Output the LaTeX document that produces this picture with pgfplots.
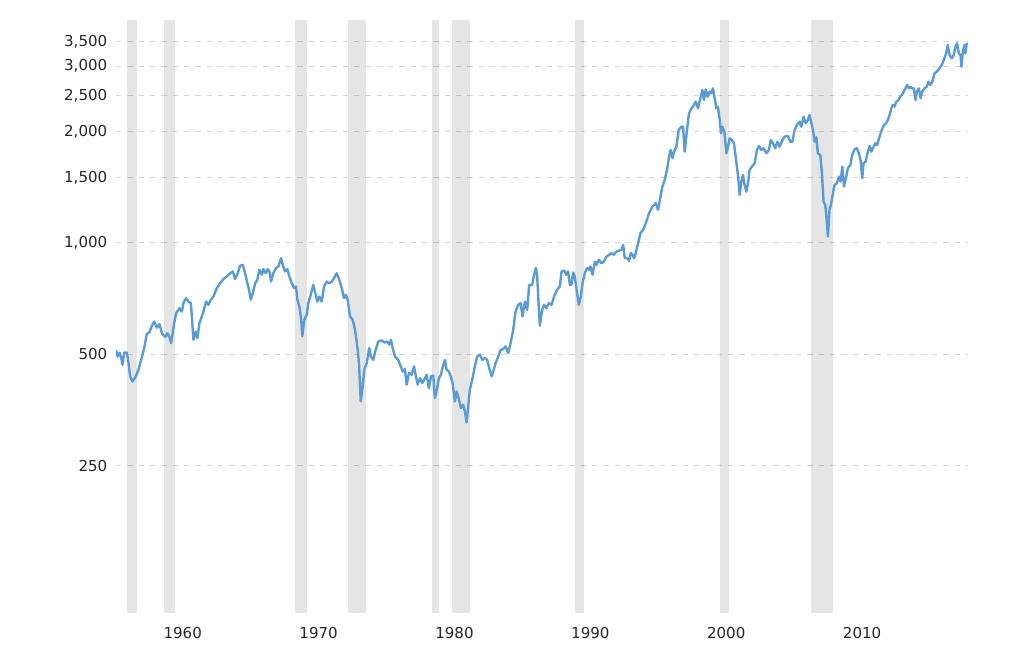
\documentclass[border=0pt]{standalone}
\usepackage{pgfplots}
\pgfplotsset{compat=1.18}
\usepackage{fontspec}
\setmainfont{DejaVu Sans}

\definecolor{linecol}{RGB}{91,155,213}
\definecolor{gridcol}{RGB}{215,215,215}

\pgfplotstableread{
year value
1956.76 514
1956.86 493
1957.01 505
1957.13 489
1957.23 468
1957.35 505
1957.55 505
1957.67 474
1957.79 436
1957.96 422
1958.16 432
1958.40 454
1958.65 489
1958.85 525
1959.02 568
1959.21 573
1959.39 597
1959.56 613
1959.76 590
1959.95 603
1960.13 570
1960.37 557
1960.54 570
1960.66 559
1960.81 536
1961.03 607
1961.18 646
1961.42 666
1961.60 652
1961.71 687
1961.91 709
1962.08 694
1962.26 687
1962.45 547
1962.63 576
1962.74 553
1962.89 607
1963.07 633
1963.18 652
1963.38 694
1963.55 680
1963.73 702
1963.92 716
1964.17 755
1964.41 778
1964.65 798
1964.90 811
1965.15 828
1965.35 837
1965.51 798
1965.71 828
1965.88 867
1966.08 872
1966.25 828
1966.42 778
1966.54 747
1966.67 702
1966.82 732
1966.99 778
1967.15 795
1967.30 846
1967.48 820
1967.60 849
1967.77 828
1967.92 849
1968.04 837
1968.16 786
1968.33 828
1968.53 855
1968.70 863
1968.90 909
1969.02 872
1969.19 837
1969.36 849
1969.51 811
1969.68 778
1969.85 755
1970.00 762
1970.10 702
1970.24 673
1970.37 626
1970.46 559
1970.61 620
1970.79 639
1970.90 687
1971.08 724
1971.27 770
1971.45 724
1971.57 694
1971.71 716
1971.89 694
1972.06 762
1972.26 786
1972.45 778
1972.63 786
1972.79 803
1972.99 828
1973.18 795
1973.36 755
1973.53 709
1973.68 724
1973.80 702
1973.97 633
1974.17 620
1974.34 582
1974.51 525
1974.63 473
1974.76 373
1974.90 409
1975.02 454
1975.20 473
1975.39 520
1975.51 493
1975.68 483
1975.86 514
1976.05 541
1976.30 545
1976.54 538
1976.71 541
1976.86 531
1976.99 547
1977.11 520
1977.28 493
1977.52 483
1977.70 464
1977.85 449
1978.01 456
1978.14 414
1978.31 445
1978.51 440
1978.68 464
1978.82 436
1978.95 414
1979.12 431
1979.29 418
1979.43 427
1979.61 440
1979.78 405
1979.93 436
1980.10 438
1980.22 381
1980.39 405
1980.51 431
1980.66 440
1980.83 468
1980.96 483
1981.08 454
1981.25 449
1981.38 436
1981.52 418
1981.69 373
1981.82 397
1981.99 377
1982.13 358
1982.30 365
1982.43 350
1982.55 327
1982.67 362
1982.79 401
1982.99 431
1983.16 464
1983.33 493
1983.53 499
1983.70 483
1983.90 488
1984.07 483
1984.21 459
1984.39 436
1984.51 449
1984.68 473
1984.88 493
1985.05 514
1985.24 516
1985.42 525
1985.61 504
1985.79 536
1985.98 582
1986.15 652
1986.35 680
1986.52 687
1986.67 633
1986.84 694
1987.01 659
1987.16 770
1987.21 770
1987.38 770
1987.52 820
1987.65 855
1987.74 820
1987.82 716
1987.94 597
1988.11 659
1988.26 680
1988.43 666
1988.60 687
1988.80 680
1988.99 716
1989.21 747
1989.41 762
1989.54 837
1989.73 842
1989.90 820
1990.02 837
1990.15 770
1990.27 770
1990.39 832
1990.51 811
1990.68 732
1990.81 680
1990.96 716
1991.08 778
1991.25 828
1991.42 855
1991.57 846
1991.67 863
1991.82 820
1991.99 890
1992.11 872
1992.28 900
1992.48 881
1992.65 890
1992.85 918
1993.04 928
1993.21 938
1993.38 928
1993.58 947
1993.77 953
1993.95 957
1994.07 988
1994.19 909
1994.36 909
1994.51 894
1994.63 938
1994.76 928
1994.88 909
1995.00 938
1995.17 998
1995.35 1062
1995.54 1084
1995.74 1130
1995.98 1203
1996.23 1253
1996.47 1280
1996.64 1228
1996.82 1333
1996.96 1419
1997.13 1479
1997.30 1574
1997.45 1709
1997.57 1782
1997.70 1692
1997.82 1763
1997.99 1819
1998.16 2018
1998.36 2060
1998.48 2060
1998.60 1763
1998.77 2018
1998.92 2239
1999.10 2310
1999.21 2333
1999.41 2406
1999.58 2310
1999.76 2458
1999.90 2588
2000.02 2432
2000.15 2599
2000.29 2482
2000.44 2561
2000.57 2535
2000.68 2615
2000.81 2458
2000.93 2310
2001.05 2333
2001.18 2148
2001.27 1977
2001.38 2060
2001.52 1997
2001.67 1746
2001.79 1819
2001.91 1916
2002.08 1896
2002.23 1858
2002.35 1709
2002.52 1526
2002.65 1347
2002.77 1464
2002.89 1526
2003.01 1434
2003.14 1375
2003.26 1449
2003.38 1574
2003.55 1607
2003.75 1641
2003.92 1782
2004.07 1827
2004.24 1782
2004.41 1801
2004.61 1746
2004.80 1782
2004.93 1896
2005.10 1858
2005.27 1801
2005.42 1876
2005.59 1819
2005.79 1896
2005.96 1936
2006.20 1945
2006.38 1876
2006.52 1876
2006.69 2018
2006.86 2082
2007.06 2125
2007.18 2060
2007.35 2192
2007.50 2104
2007.67 2148
2007.79 2215
2007.92 2104
2008.04 2018
2008.16 1876
2008.29 1929
2008.40 1746
2008.58 1727
2008.70 1542
2008.82 1292
2008.95 1266
2009.07 1130
2009.14 1040
2009.26 1228
2009.39 1280
2009.51 1361
2009.63 1434
2009.80 1449
2009.95 1510
2010.07 1464
2010.20 1607
2010.32 1419
2010.44 1479
2010.61 1591
2010.79 1624
2010.93 1727
2011.10 1790
2011.27 1801
2011.42 1746
2011.54 1675
2011.67 1495
2011.76 1641
2011.91 1657
2012.08 1763
2012.21 1827
2012.33 1763
2012.45 1801
2012.63 1858
2012.77 1838
2012.94 1936
2013.11 2018
2013.26 2082
2013.43 2104
2013.55 2148
2013.68 2215
2013.80 2310
2013.92 2358
2014.04 2333
2014.17 2406
2014.34 2432
2014.46 2482
2014.58 2509
2014.71 2561
2014.85 2615
2014.98 2670
2015.10 2615
2015.22 2641
2015.35 2615
2015.46 2615
2015.59 2432
2015.68 2561
2015.83 2615
2015.96 2458
2016.08 2561
2016.25 2615
2016.42 2641
2016.54 2725
2016.67 2670
2016.82 2725
2016.99 2871
2017.15 2899
2017.35 2962
2017.52 3023
2017.67 3119
2017.84 3251
2017.96 3423
2018.09 3217
2018.26 3152
2018.40 3217
2018.53 3387
2018.65 3459
2018.77 3251
2018.90 3217
2018.97 2991
2019.07 3283
2019.19 3423
2019.26 3251
2019.36 3473
}\seriesdata

\begin{document}
\begin{tikzpicture}
\path[use as bounding box] (0,0) rectangle (768pt,484.5pt);
\begin{axis}[
    at={(87pt,24.75pt)}, anchor=south west,
    width=639pt, height=444.75pt, scale only axis,
    xmin=1956.75, xmax=2019.45,
    ymode=log, ymin=100, ymax=4000,
    axis line style={draw=none},
    tick style={draw=none},
    major tick length=0pt,
    xtick={1960,1970,1980,1990,2000,2010},
    xticklabels={1960,1970,1980,1990,2000,2010},
    ytick={250,500,1000,1500,2000,2500,3000,3500},
    yticklabels={250,500,{1,000},{1,500},{2,000},{2,500},{3,000},{3,500}},
    ymajorgrids,
    major grid style={gridcol, line width=0.75pt, dash pattern=on 4pt off 4.5pt},
    ticklabel style={font=\fontsize{11.3}{13}\selectfont, text=black!85},
    xticklabel style={anchor=north west, yshift=-7pt, xshift=-1pt},
    yticklabel style={anchor=east, xshift=-3pt},
]
% recession bands (translucent, so the grid shows through)
\addplot [fill=black, fill opacity=0.1, draw=none] coordinates {(1957.58,100) (1958.29,100) (1958.29,4000) (1957.58,4000)};
\addplot [fill=black, fill opacity=0.1, draw=none] coordinates {(1960.29,100) (1961.08,100) (1961.08,4000) (1960.29,4000)};
\addplot [fill=black, fill opacity=0.1, draw=none] coordinates {(1969.92,100) (1970.83,100) (1970.83,4000) (1969.92,4000)};
\addplot [fill=black, fill opacity=0.1, draw=none] coordinates {(1973.83,100) (1975.17,100) (1975.17,4000) (1973.83,4000)};
\addplot [fill=black, fill opacity=0.1, draw=none] coordinates {(1980.00,100) (1980.50,100) (1980.50,4000) (1980.00,4000)};
\addplot [fill=black, fill opacity=0.1, draw=none] coordinates {(1981.50,100) (1982.83,100) (1982.83,4000) (1981.50,4000)};
\addplot [fill=black, fill opacity=0.1, draw=none] coordinates {(1990.50,100) (1991.17,100) (1991.17,4000) (1990.50,4000)};
\addplot [fill=black, fill opacity=0.1, draw=none] coordinates {(2001.17,100) (2001.83,100) (2001.83,4000) (2001.17,4000)};
\addplot [fill=black, fill opacity=0.1, draw=none] coordinates {(2007.92,100) (2009.50,100) (2009.50,4000) (2007.92,4000)};

% index line
\addplot [linecol, line width=1.8pt, line join=round, no markers] table [x=year, y=value] {\seriesdata};
\end{axis}
\end{tikzpicture}
\end{document}
